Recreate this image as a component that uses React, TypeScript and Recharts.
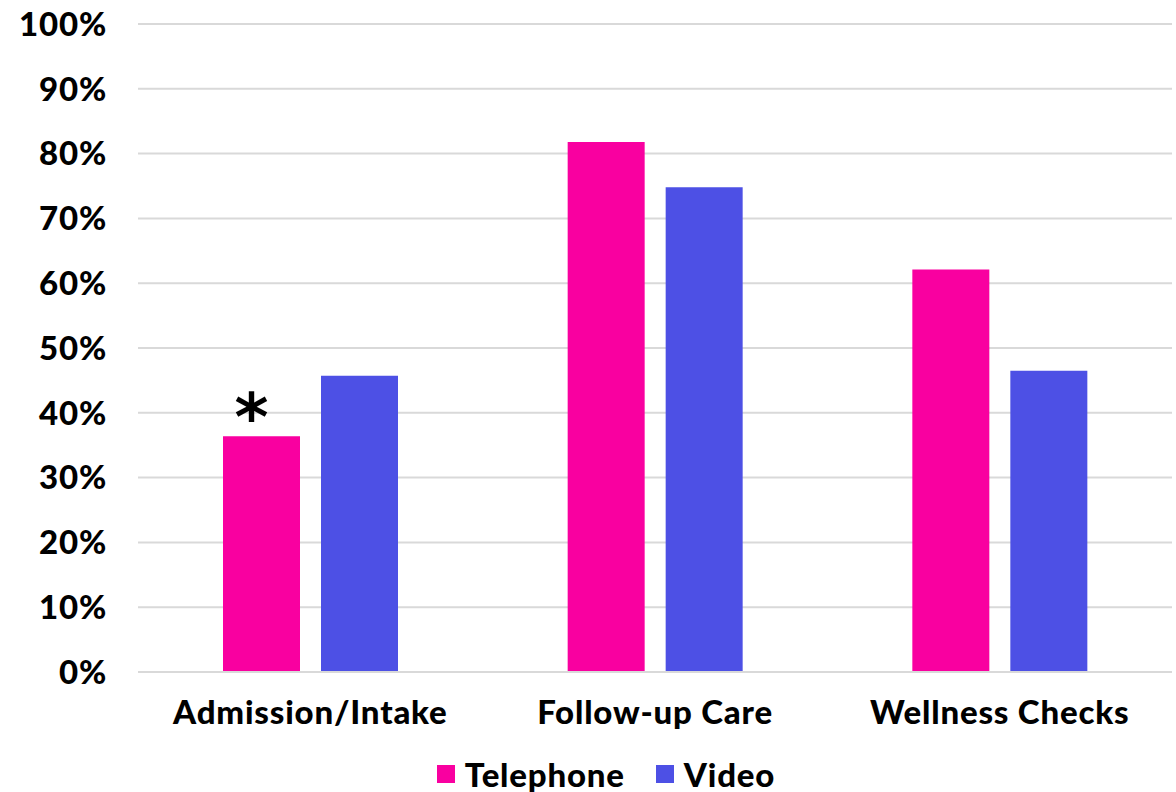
import React from 'react';
import { BarChart, Bar, XAxis, YAxis, CartesianGrid, Legend, LabelList } from 'recharts';

const categories = ['Admission/Intake', 'Follow-up Care', 'Wellness Checks'];
const telephone = [36.4, 81.8, 62.1];
const video = [45.7, 74.8, 46.5];
const telephoneNotes = ['*', '', ''];
const yTicks = [0, 10, 20, 30, 40, 50, 60, 70, 80, 90, 100];

const PINK = '#f900a0';
const BLUE = '#4d50e5';
const GRID = '#d9d9d9';
const FONT = 'Lato, "Open Sans", sans-serif';

const data = categories.map((name, i) => ({
  name,
  Telephone: telephone[i],
  Video: video[i],
  note: telephoneNotes[i],
}));

const tickStyle = { fill: '#000', fontSize: 33, fontWeight: 900, fontFamily: FONT, letterSpacing: 0.8 };

const renderLegend = (props: any) => {
  const items = props.payload || [];
  return (
    <div
      style={{
        height: 36,
        display: 'flex',
        justifyContent: 'center',
        alignItems: 'center',
        gap: 31,
        paddingLeft: 40,
      }}
    >
      {items.map((it: any) => (
        <div key={it.value} style={{ display: 'flex', alignItems: 'center', height: 36 }}>
          <span style={{ width: 18, height: 18, background: it.color, marginRight: 10 }} />
          <span
            style={{
              fontFamily: FONT,
              fontWeight: 900,
              fontSize: 33,
              letterSpacing: 0.8,
              lineHeight: '36px',
              color: '#000',
            }}
          >
            {it.value}
          </span>
        </div>
      ))}
    </div>
  );
};

// asterisk flag above a bar
const renderNote = (props: any) => {
  const { x, y, width, value } = props;
  if (!value) return null;
  return (
    <text
      x={x + width / 2 - 10}
      y={y + 4}
      textAnchor="middle"
      fontSize={65}
      fontWeight={700}
      fontFamily='"DejaVu Sans", sans-serif'
      fill="#000"
    >
      {value}
    </text>
  );
};

export default function App() {
  return (
    <div style={{ width: 1176, height: 792, background: '#fff' }}>
      <style>{'body { margin: 0; }'}</style>
      <BarChart
        width={1176}
        height={792}
        data={data}
        margin={{ top: 24, right: 4, bottom: 0, left: 0 }}
        barCategoryGap={85}
        barGap={21}
      >
        <CartesianGrid vertical={false} stroke={GRID} strokeWidth={2} />
        <XAxis
          dataKey="name"
          height={84}
          tickLine={false}
          axisLine={{ stroke: GRID, strokeWidth: 2 }}
          tickSize={0}
          tickMargin={29}
          tick={tickStyle}
        />
        <YAxis
          width={138}
          domain={[0, 100]}
          ticks={yTicks}
          tickFormatter={(v: number) => `${v}%`}
          axisLine={false}
          tickLine={false}
          tickSize={0}
          tickMargin={31}
          tick={tickStyle}
        />
        <Legend verticalAlign="bottom" content={renderLegend} />
        <Bar dataKey="Telephone" fill={PINK} isAnimationActive={false}>
          <LabelList dataKey="note" content={renderNote} />
        </Bar>
        <Bar dataKey="Video" fill={BLUE} isAnimationActive={false} />
      </BarChart>
    </div>
  );
}
